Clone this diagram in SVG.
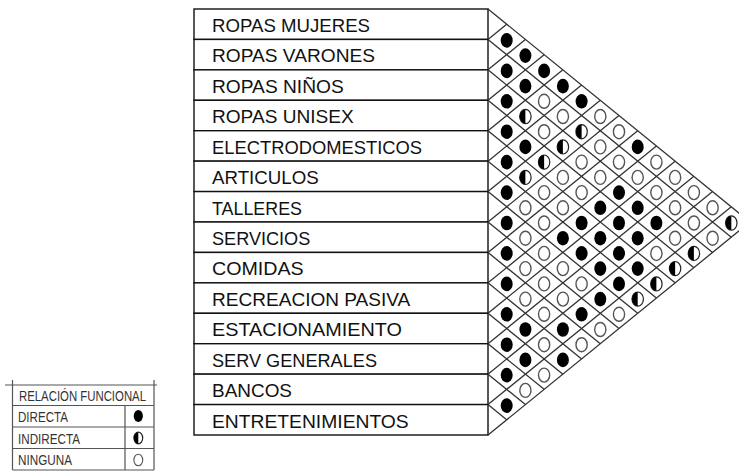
<svg xmlns="http://www.w3.org/2000/svg" xmlns:xlink="http://www.w3.org/1999/xlink" width="739" height="474" viewBox="0 0 739 474">
<style>
.lbl{font-family:"Liberation Sans",Arial,sans-serif;font-size:17.5px;fill:#111}
.row{fill:#fff;stroke:#111;stroke-width:1.4}
.grid{fill:none;stroke:#333;stroke-width:1.3}
.leg{font-family:"Liberation Sans",Arial,sans-serif;font-size:14px;fill:#333}
.ll{stroke:#555;stroke-width:1.2;fill:none}
</style>
<defs>
<g id="F"><ellipse rx="6" ry="7.3" fill="#000"/></g>
<g id="E"><ellipse rx="5.6" ry="7" fill="#fff" stroke="#555" stroke-width="1.4"/></g>
<g id="H"><ellipse rx="5.7" ry="7.1" fill="#fff" stroke="#222" stroke-width="1.2"/><path d="M0,-7.1 A5.7,7.1 0 0 0 0,7.1 Z" fill="#000"/></g>
</defs>
<rect width="739" height="474" fill="#fff"/>
<g id="rows">
<g id="n1"><rect class="row" x="194" y="9" width="294" height="30.43"/><text class="lbl" x="212" y="32" textLength="158" lengthAdjust="spacingAndGlyphs">ROPAS MUJERES</text></g>
<g id="n2"><rect class="row" x="194" y="39.43" width="294" height="30.43"/><text class="lbl" x="212" y="62.4" textLength="163" lengthAdjust="spacingAndGlyphs">ROPAS VARONES</text></g>
<g id="n3"><rect class="row" x="194" y="69.86" width="294" height="30.43"/><text class="lbl" x="212" y="92.9" textLength="131.7" lengthAdjust="spacingAndGlyphs">ROPAS NIÑOS</text></g>
<g id="n4"><rect class="row" x="194" y="100.29" width="294" height="30.43"/><text class="lbl" x="212" y="123.3" textLength="141.7" lengthAdjust="spacingAndGlyphs">ROPAS UNISEX</text></g>
<g id="n5"><rect class="row" x="194" y="130.71" width="294" height="30.43"/><text class="lbl" x="212" y="153.7" textLength="210" lengthAdjust="spacingAndGlyphs">ELECTRODOMESTICOS</text></g>
<g id="n6"><rect class="row" x="194" y="161.14" width="294" height="30.43"/><text class="lbl" x="212" y="184.1" textLength="106.7" lengthAdjust="spacingAndGlyphs">ARTICULOS</text></g>
<g id="n7"><rect class="row" x="194" y="191.57" width="294" height="30.43"/><text class="lbl" x="212" y="214.6" textLength="90" lengthAdjust="spacingAndGlyphs">TALLERES</text></g>
<g id="n8"><rect class="row" x="194" y="222" width="294" height="30.43"/><text class="lbl" x="212" y="245" textLength="98.3" lengthAdjust="spacingAndGlyphs">SERVICIOS</text></g>
<g id="n9"><rect class="row" x="194" y="252.43" width="294" height="30.43"/><text class="lbl" x="212" y="275.4" textLength="91.7" lengthAdjust="spacingAndGlyphs">COMIDAS</text></g>
<g id="n10"><rect class="row" x="194" y="282.86" width="294" height="30.43"/><text class="lbl" x="212" y="305.9" textLength="198.3" lengthAdjust="spacingAndGlyphs">RECREACION PASIVA</text></g>
<g id="n11"><rect class="row" x="194" y="313.29" width="294" height="30.43"/><text class="lbl" x="212" y="336.3" textLength="190" lengthAdjust="spacingAndGlyphs">ESTACIONAMIENTO</text></g>
<g id="n12"><rect class="row" x="194" y="343.71" width="294" height="30.43"/><text class="lbl" x="212" y="366.7" textLength="165" lengthAdjust="spacingAndGlyphs">SERV GENERALES</text></g>
<g id="n13"><rect class="row" x="194" y="374.14" width="294" height="30.43"/><text class="lbl" x="212" y="397.1" textLength="80" lengthAdjust="spacingAndGlyphs">BANCOS</text></g>
<g id="n14"><rect class="row" x="194" y="404.57" width="294" height="30.43"/><text class="lbl" x="212" y="427.6" textLength="196.7" lengthAdjust="spacingAndGlyphs">ENTRETENIMIENTOS</text></g>
</g>
<g id="connectors">
<path class="grid" d="M488,9L750,222 M488,39.43L731.3,237.21 M488,69.86L712.6,252.43 M488,100.29L693.9,267.64 M488,130.71L675.1,282.86 M488,161.14L656.4,298.07 M488,191.57L637.7,313.29 M488,222L619,328.5 M488,252.43L600.3,343.71 M488,282.86L581.6,358.93 M488,313.29L562.9,374.14 M488,343.71L544.1,389.36 M488,374.14L525.4,404.57 M488,404.57L506.7,419.79 M488,39.43L506.7,24.21 M488,69.86L525.4,39.43 M488,100.29L544.1,54.64 M488,130.71L562.9,69.86 M488,161.14L581.6,85.07 M488,191.57L600.3,100.29 M488,222L619,115.5 M488,252.43L637.7,130.71 M488,282.86L656.4,145.93 M488,313.29L675.1,161.14 M488,343.71L693.9,176.36 M488,374.14L712.6,191.57 M488,404.57L731.3,206.79 M488,435L750,222"/>
</g>
<g id="matrix">
<use href="#F" x="506.7" y="40.4"/>
<use href="#F" x="525.4" y="55.6"/>
<use href="#F" x="506.7" y="70.9"/><use href="#F" x="544.1" y="70.9"/>
<use href="#F" x="525.4" y="86.1"/><use href="#F" x="562.9" y="86.1"/>
<use href="#F" x="506.7" y="101.3"/><use href="#E" x="544.1" y="101.3"/><use href="#F" x="581.6" y="101.3"/>
<use href="#H" x="525.4" y="116.5"/><use href="#E" x="562.9" y="116.5"/><use href="#E" x="600.3" y="116.5"/>
<use href="#F" x="506.7" y="131.7"/><use href="#E" x="544.1" y="131.7"/><use href="#H" x="581.6" y="131.7"/><use href="#E" x="619" y="131.7"/>
<use href="#F" x="525.4" y="146.9"/><use href="#H" x="562.9" y="146.9"/><use href="#E" x="600.3" y="146.9"/><use href="#F" x="637.7" y="146.9"/>
<use href="#F" x="506.7" y="162.1"/><use href="#H" x="544.1" y="162.1"/><use href="#E" x="581.6" y="162.1"/><use href="#E" x="619" y="162.1"/><use href="#E" x="656.4" y="162.1"/>
<use href="#H" x="525.4" y="177.4"/><use href="#E" x="562.9" y="177.4"/><use href="#E" x="600.3" y="177.4"/><use href="#E" x="637.7" y="177.4"/><use href="#E" x="675.1" y="177.4"/>
<use href="#F" x="506.7" y="192.6"/><use href="#E" x="544.1" y="192.6"/><use href="#E" x="581.6" y="192.6"/><use href="#F" x="619" y="192.6"/><use href="#E" x="656.4" y="192.6"/><use href="#E" x="693.9" y="192.6"/>
<use href="#E" x="525.4" y="207.8"/><use href="#E" x="562.9" y="207.8"/><use href="#F" x="600.3" y="207.8"/><use href="#F" x="637.7" y="207.8"/><use href="#E" x="675.1" y="207.8"/><use href="#E" x="712.6" y="207.8"/>
<use href="#F" x="506.7" y="223"/><use href="#E" x="544.1" y="223"/><use href="#F" x="581.6" y="223"/><use href="#F" x="619" y="223"/><use href="#F" x="656.4" y="223"/><use href="#E" x="693.9" y="223"/><use href="#H" x="731.3" y="223"/>
<use href="#E" x="525.4" y="238.2"/><use href="#F" x="562.9" y="238.2"/><use href="#F" x="600.3" y="238.2"/><use href="#F" x="637.7" y="238.2"/><use href="#E" x="675.1" y="238.2"/><use href="#E" x="712.6" y="238.2"/>
<use href="#F" x="506.7" y="253.4"/><use href="#E" x="544.1" y="253.4"/><use href="#F" x="581.6" y="253.4"/><use href="#F" x="619" y="253.4"/><use href="#E" x="656.4" y="253.4"/><use href="#H" x="693.9" y="253.4"/>
<use href="#E" x="525.4" y="268.6"/><use href="#E" x="562.9" y="268.6"/><use href="#F" x="600.3" y="268.6"/><use href="#F" x="637.7" y="268.6"/><use href="#H" x="675.1" y="268.6"/>
<use href="#F" x="506.7" y="283.9"/><use href="#E" x="544.1" y="283.9"/><use href="#E" x="581.6" y="283.9"/><use href="#F" x="619" y="283.9"/><use href="#H" x="656.4" y="283.9"/>
<use href="#E" x="525.4" y="299.1"/><use href="#E" x="562.9" y="299.1"/><use href="#F" x="600.3" y="299.1"/><use href="#H" x="637.7" y="299.1"/>
<use href="#F" x="506.7" y="314.3"/><use href="#E" x="544.1" y="314.3"/><use href="#F" x="581.6" y="314.3"/><use href="#E" x="619" y="314.3"/>
<use href="#F" x="525.4" y="329.5"/><use href="#F" x="562.9" y="329.5"/><use href="#E" x="600.3" y="329.5"/>
<use href="#F" x="506.7" y="344.7"/><use href="#E" x="544.1" y="344.7"/><use href="#E" x="581.6" y="344.7"/>
<use href="#F" x="525.4" y="359.9"/><use href="#F" x="562.9" y="359.9"/>
<use href="#F" x="506.7" y="375.1"/><use href="#E" x="544.1" y="375.1"/>
<use href="#E" x="525.4" y="390.4"/>
<use href="#F" x="506.7" y="405.6"/>
</g>
<g id="legend">
<path class="ll" d="M5,385H157 M12.5,380V470 M154,380V470 M12.5,405.5H154 M12.5,427H154 M12.5,448.5H154 M12.5,470H154 M125,405.5V470"/>
<text class="leg" x="19" y="400.5" textLength="127" lengthAdjust="spacingAndGlyphs">RELACIÓN FUNCIONAL</text>
<text class="leg" x="18" y="421.5" textLength="50" lengthAdjust="spacingAndGlyphs">DIRECTA</text>
<text class="leg" x="18" y="443.5" textLength="62" lengthAdjust="spacingAndGlyphs">INDIRECTA</text>
<text class="leg" x="18" y="465" textLength="54" lengthAdjust="spacingAndGlyphs">NINGUNA</text>
<ellipse cx="138.3" cy="416" rx="4.6" ry="6" fill="#000"/>
<ellipse cx="138.3" cy="438" rx="4.4" ry="5.8" fill="#fff" stroke="#222" stroke-width="1.2"/>
<path d="M138.3,432.2 A4.4,5.8 0 0 0 138.3,443.8 Z" fill="#000"/>
<ellipse cx="138.3" cy="460" rx="4.4" ry="5.8" fill="#fff" stroke="#555" stroke-width="1.1"/>
</g>
</svg>
